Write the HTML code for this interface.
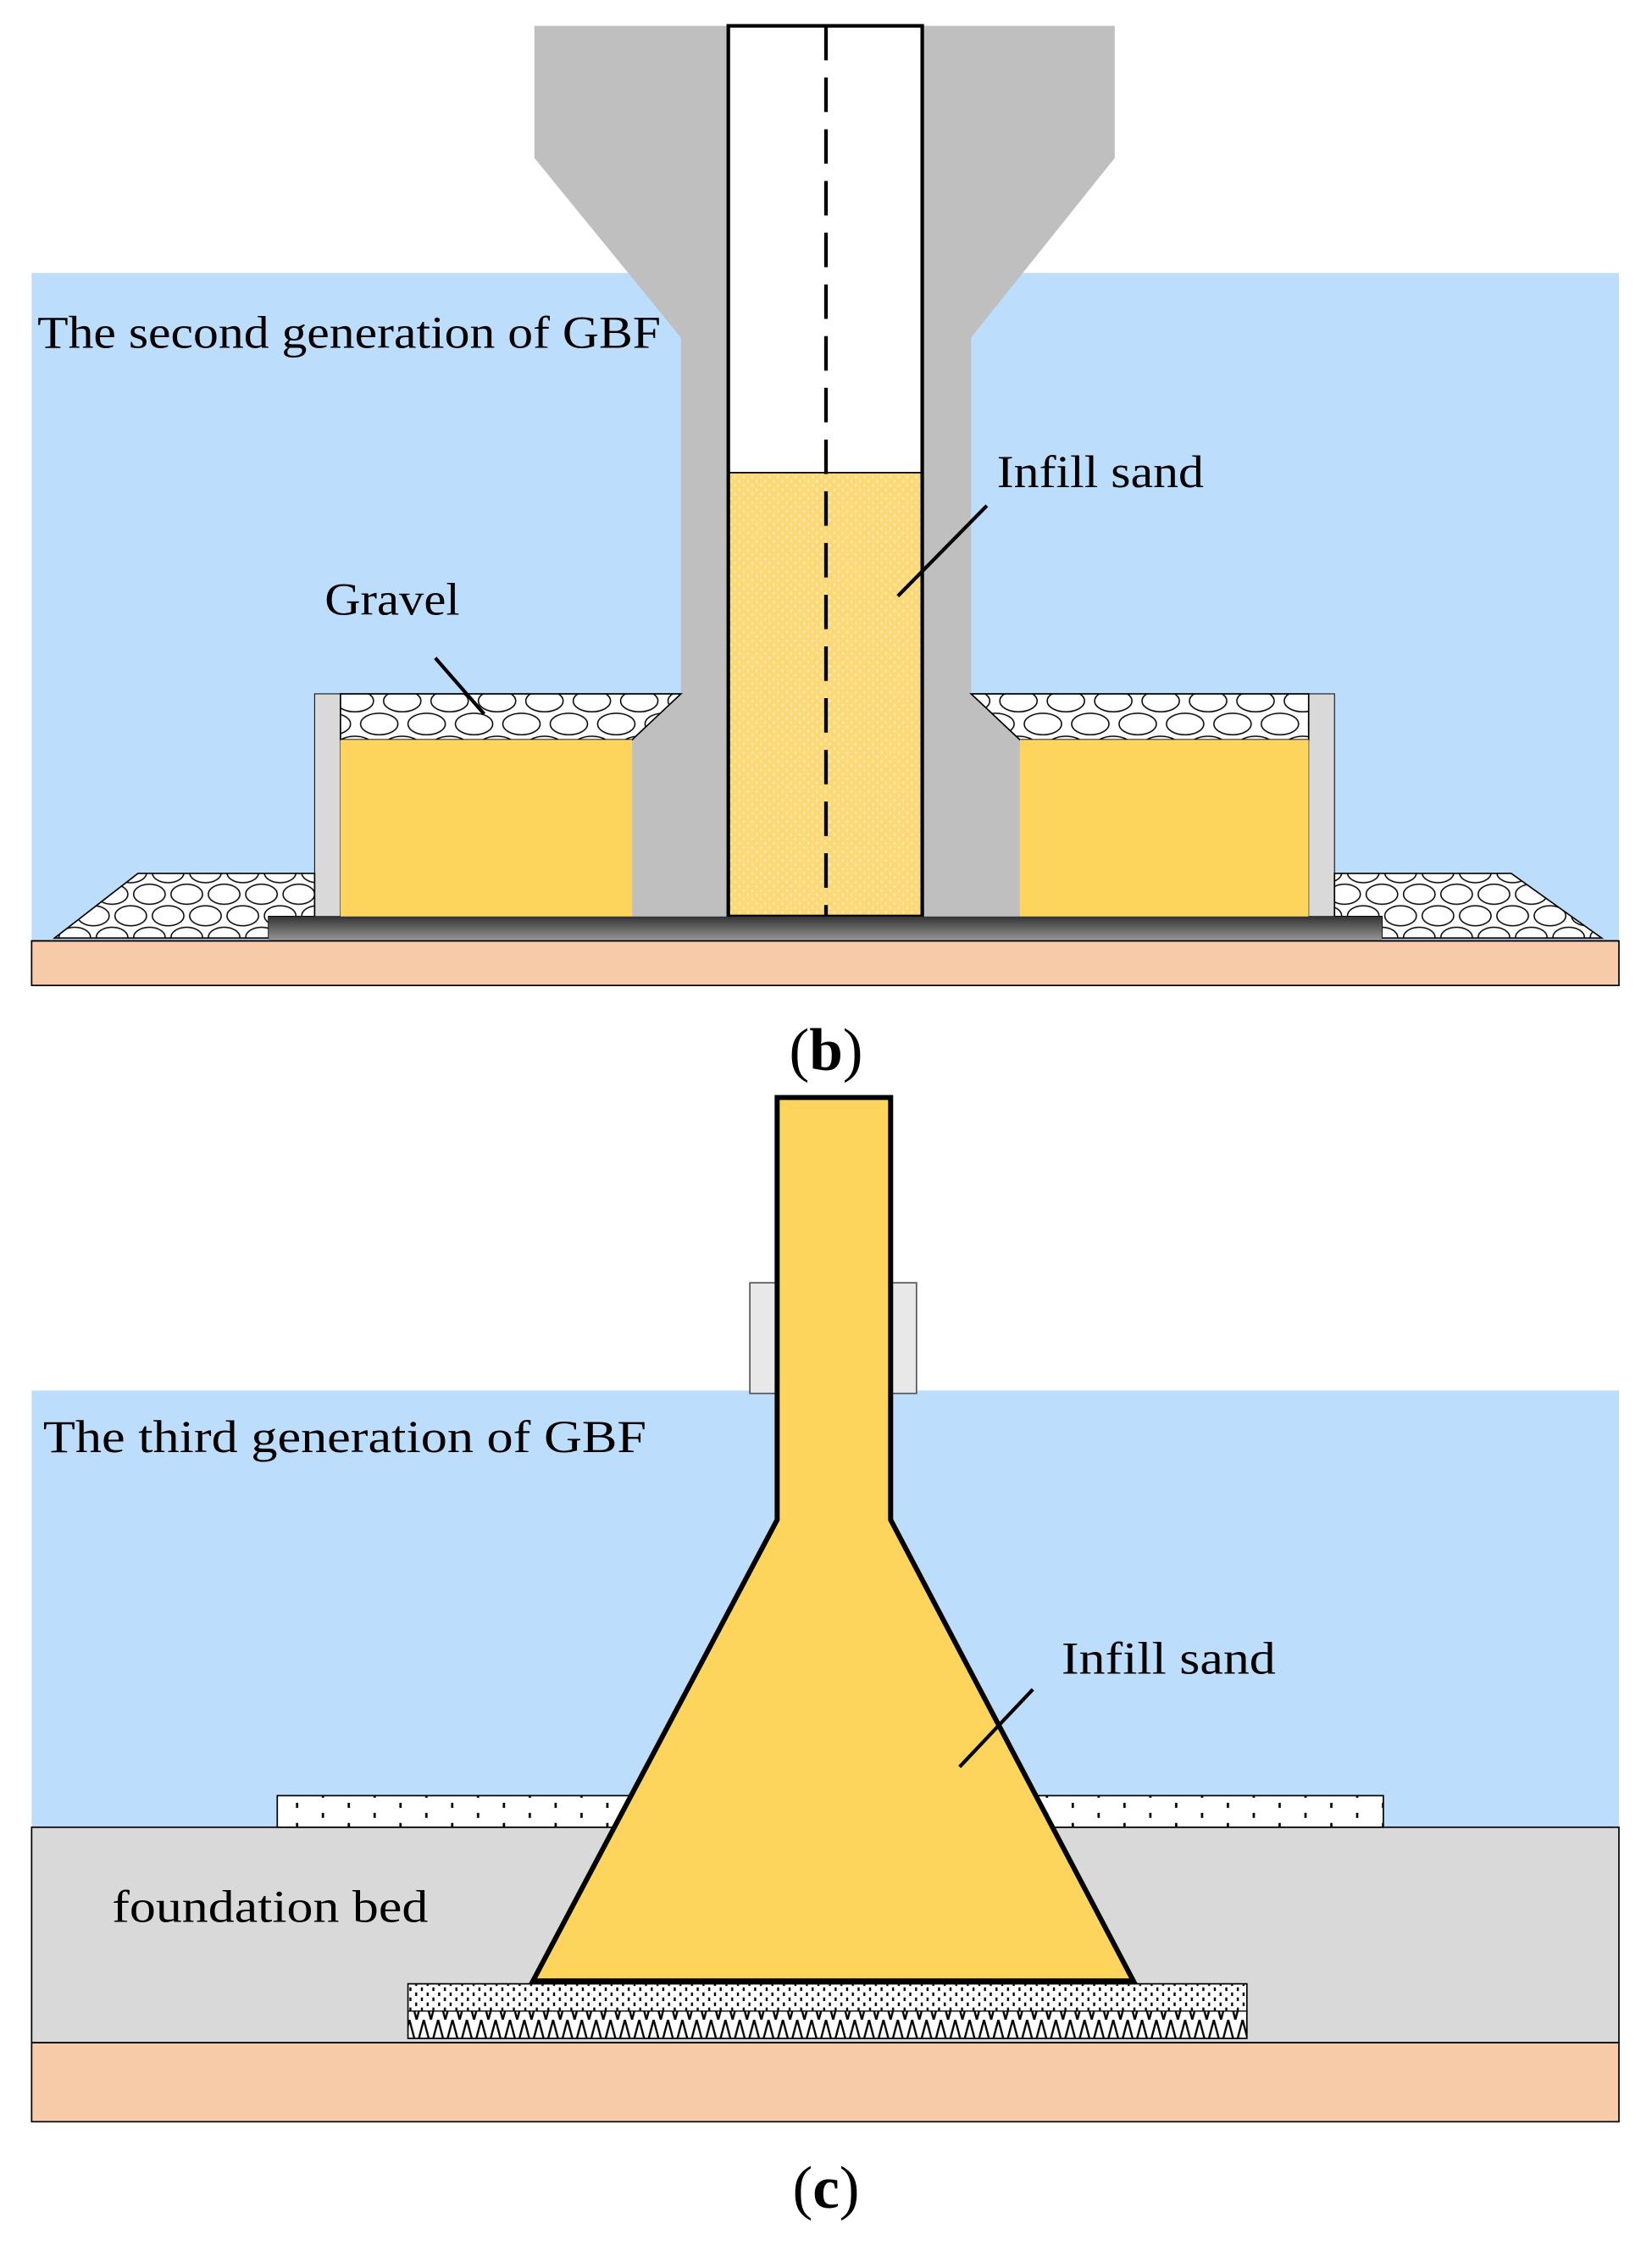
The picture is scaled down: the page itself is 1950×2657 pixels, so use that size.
<!DOCTYPE html>
<html><head><meta charset="utf-8"><style>html,body{margin:0;padding:0;background:#fff}svg{display:block}</style></head><body>
<svg width="1950" height="2657" viewBox="0 0 1150 1567" xmlns="http://www.w3.org/2000/svg" font-family="Liberation Serif, serif">
<defs>
<pattern id="grav" width="33" height="32" patternUnits="userSpaceOnUse">
<rect width="33" height="32" fill="#fff"/>
<ellipse cx="16" cy="8" rx="13" ry="7.5" fill="#fff" stroke="#000" stroke-width="0.9"/>
<ellipse cx="0" cy="24" rx="13" ry="7.5" fill="#fff" stroke="#000" stroke-width="0.9"/>
<ellipse cx="33" cy="24" rx="13" ry="7.5" fill="#fff" stroke="#000" stroke-width="0.9"/>
</pattern>
<pattern id="grav2" width="26" height="30" patternUnits="userSpaceOnUse">
<rect width="26" height="30" fill="#fff"/>
<ellipse cx="13" cy="7.5" rx="11" ry="7" fill="#fff" stroke="#000" stroke-width="0.9"/>
<ellipse cx="0" cy="22.5" rx="11" ry="7" fill="#fff" stroke="#000" stroke-width="0.9"/>
<ellipse cx="26" cy="22.5" rx="11" ry="7" fill="#fff" stroke="#000" stroke-width="0.9"/>
</pattern>
<pattern id="sandp" width="6" height="6" patternUnits="userSpaceOnUse">
<rect width="6" height="6" fill="#FCD877"/>
<rect x="1" y="1" width="1.5" height="2" fill="#FDE9A8"/>
<rect x="4" y="4" width="1.5" height="2" fill="#FDE9A8"/>
</pattern>
<pattern id="dots" width="36" height="14" patternUnits="userSpaceOnUse">
<rect width="36" height="14" fill="#fff"/>
<rect x="8" y="2" width="1.6" height="3.5" fill="#000"/>
<rect x="26" y="9" width="1.6" height="3.5" fill="#000"/>
</pattern>
<pattern id="dense" width="8" height="7" patternUnits="userSpaceOnUse">
<rect width="8" height="7" fill="#fff"/>
<rect x="1" y="1" width="1.4" height="2.5" fill="#000"/>
<rect x="5" y="4.5" width="1.4" height="2.5" fill="#000"/>
</pattern>
<pattern id="zig" width="20" height="19" patternUnits="userSpaceOnUse">
<rect width="20" height="19" fill="#fff"/>
<polyline points="0,19 5,0 10,19 15,0 20,19" fill="none" stroke="#000" stroke-width="1.4"/>
</pattern>
<linearGradient id="plate" x1="0" y1="0" x2="0" y2="1">
<stop offset="0" stop-color="#333"/><stop offset="1" stop-color="#999"/>
</linearGradient>
</defs>

<!-- Part b -->
<rect x="22" y="190" width="1105" height="465" fill="#BDDDFC"/>
<rect x="22" y="655" width="1105" height="31" fill="#F8CBA8" stroke="#000" stroke-width="1"/>
<polygon points="372,18 776,18 776,110 676,235 676,483 710,515 710,638 440,638 440,515 474,483 474,235 372,110" fill="#BFBFBF"/>
<rect x="507" y="18" width="135" height="311" fill="#fff"/>
<rect x="507" y="329" width="135" height="309" fill="url(#sandp)"/>
<line x1="507" y1="329" x2="642" y2="329" stroke="#000" stroke-width="1"/>
<rect x="507" y="18" width="135" height="620" fill="none" stroke="#000" stroke-width="2.5"/>
<line x1="575" y1="18" x2="575" y2="638" stroke="#000" stroke-width="2.5" stroke-dasharray="24,12"/>
<rect x="219" y="483" width="18" height="155" fill="#D9D9D9" stroke="#000" stroke-width="0.6"/>
<polygon points="237,483 474,483 440,515 237,515" fill="url(#grav)" stroke="#000" stroke-width="1"/>
<rect x="237" y="515" width="203" height="123" fill="#FDD55C"/>
<rect x="911" y="483" width="18" height="155" fill="#D9D9D9" stroke="#000" stroke-width="0.6"/>
<polygon points="676,483 911,483 911,515 710,515" fill="url(#grav)" stroke="#000" stroke-width="1"/>
<rect x="710" y="515" width="201" height="123" fill="#FDD55C"/>
<polygon points="38,653 96,608 219,608 219,638 187,638 187,653" fill="url(#grav2)" stroke="#000" stroke-width="1"/>
<polygon points="929,608 1052,608 1115,653 962,653 962,638 929,638" fill="url(#grav2)" stroke="#000" stroke-width="1"/>
<rect x="187" y="638" width="775" height="17" fill="url(#plate)"/>
<line x1="22" y1="655" x2="1127" y2="655" stroke="#000" stroke-width="1"/>

<text x="26" y="242" font-size="32" textLength="434" lengthAdjust="spacingAndGlyphs">The second generation of GBF</text>
<text x="694" y="339" font-size="32" textLength="144" lengthAdjust="spacingAndGlyphs">Infill sand</text>
<text x="226" y="428" font-size="32" textLength="94" lengthAdjust="spacingAndGlyphs">Gravel</text>
<line x1="687" y1="352" x2="625" y2="415" stroke="#000" stroke-width="2.5"/>
<line x1="303" y1="458" x2="337" y2="497" stroke="#000" stroke-width="2.5"/>
<text x="575" y="745" font-size="42" text-anchor="middle">(<tspan font-weight="bold">b</tspan>)</text>

<!-- Part c -->
<rect x="22" y="968" width="1105" height="304" fill="#BDDDFC"/>
<rect x="22" y="1272" width="1105" height="150" fill="#D9D9D9" stroke="#000" stroke-width="1"/>
<rect x="22" y="1422" width="1105" height="55" fill="#F8CBA8" stroke="#000" stroke-width="1"/>
<rect x="522" y="893" width="116" height="77" fill="#E8E8E8" stroke="#555" stroke-width="1"/>
<rect x="193" y="1250" width="245" height="22" fill="url(#dots)" stroke="#000" stroke-width="1"/>
<rect x="720" y="1250" width="243" height="22" fill="url(#dots)" stroke="#000" stroke-width="1"/>
<rect x="284" y="1381" width="584" height="19" fill="url(#dense)"/>
<rect x="284" y="1400" width="584" height="19" fill="url(#zig)"/>
<rect x="284" y="1381" width="584" height="38" fill="none" stroke="#000" stroke-width="1"/>
<line x1="284" y1="1400" x2="868" y2="1400" stroke="#000" stroke-width="0.8"/>
<polygon points="541,764 620,764 620,1058 789,1379 371,1379 541,1058" fill="#FDD55C" stroke="#000" stroke-width="3.5" stroke-linejoin="miter"/>

<text x="30" y="1011" font-size="32" textLength="420" lengthAdjust="spacingAndGlyphs">The third generation of GBF</text>
<text x="739" y="1165" font-size="32" textLength="149" lengthAdjust="spacingAndGlyphs">Infill sand</text>
<line x1="719" y1="1176" x2="668" y2="1230" stroke="#000" stroke-width="2.5"/>
<text x="78" y="1338" font-size="32" textLength="220" lengthAdjust="spacingAndGlyphs">foundation bed</text>
<text x="575" y="1537" font-size="42" text-anchor="middle">(<tspan font-weight="bold">c</tspan>)</text>
</svg>
</body></html>
